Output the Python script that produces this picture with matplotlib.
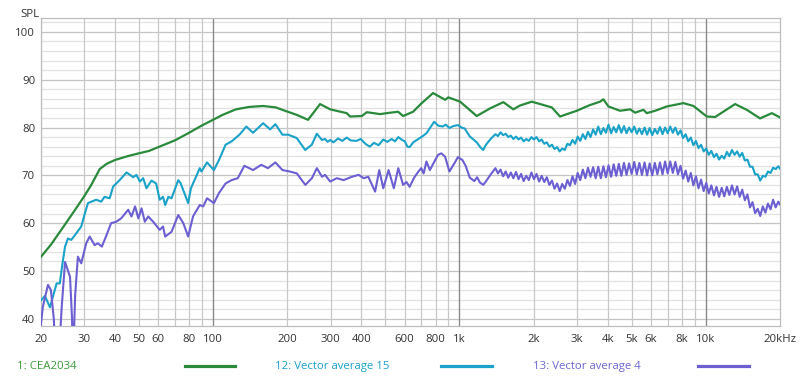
import matplotlib
matplotlib.use("Agg")
import matplotlib.pyplot as plt
from matplotlib.lines import Line2D

plt.rcParams['font.family'] = ['Open Sans', 'DejaVu Sans']

# ---------------- data ----------------
series_names = ["1: CEA2034", "12: Vector average 15", "13: Vector average 4"]
series_colors = ["#2a8a3c", "#1aa2c8", "#6c5fd2"]

cea_freq = [20, 22, 25, 28, 30, 32, 34.7, 37, 40, 45, 50, 55, 60, 70, 80, 90, 100, 110,
            124, 140, 160, 180, 196, 220, 243, 255, 272, 299, 349, 360, 402, 421, 477,
            507, 564, 591, 649, 700, 782, 875, 902, 1007, 1176, 1332, 1508, 1655, 1762,
            1967, 2193, 2372, 2561, 2993, 3389, 3723, 3839, 4025, 4490, 4929, 5164, 5584,
            5760, 6226, 6946, 8112, 8910, 10090, 10910, 13150, 14660, 16600, 18530, 20000]
cea_spl = [52.9, 55.5, 59.6, 63.3, 65.6, 67.9, 71.3, 72.4, 73.2, 74.0, 74.6, 75.1, 75.9,
           77.3, 78.9, 80.4, 81.6, 82.7, 83.8, 84.3, 84.5, 84.2, 83.5, 82.6, 81.6, 83.0,
           84.9, 83.8, 83.0, 82.3, 82.4, 83.2, 82.8, 83.0, 83.3, 82.4, 83.3, 85.0, 87.2,
           85.8, 86.3, 85.4, 82.4, 84.0, 85.3, 83.8, 84.6, 85.4, 84.7, 84.2, 82.3, 83.5,
           84.7, 85.4, 85.9, 84.4, 83.5, 83.8, 83.1, 83.7, 83.0, 83.5, 84.4, 85.1, 84.5,
           82.3, 82.2, 84.9, 83.7, 81.9, 83.0, 82.1]

# dense high-frequency sampling (measurement bins) shared by the two averages
hf_freq = [1400, 1434, 1469, 1505, 1541, 1579, 1617, 1656, 1697, 1738,
           1780, 1823, 1868, 1913, 1960, 2007, 2056, 2106, 2157, 2210,
           2263, 2318, 2375, 2432, 2492, 2552, 2614, 2678, 2743, 2810,
           2878, 2948, 3020, 3093, 3169, 3246, 3325, 3405, 3488, 3573,
           3660, 3749, 3840, 3933, 4029, 4127, 4227, 4330, 4435, 4543,
           4654, 4767, 4883, 5001, 5123, 5248, 5375, 5506, 5640, 5777,
           5917, 6061, 6209, 6360, 6514, 6673, 6835, 7001, 7171, 7346,
           7524, 7707, 7895, 8087, 8283, 8485, 8691, 8902, 9118, 9340,
           9567, 9800, 10040, 10280, 10530, 10790, 11050, 11320, 11600, 11880,
           12170, 12460, 12770, 13080, 13400, 13720, 14050, 14400, 14750, 15110,
           15470, 15850, 16240, 16630, 17030, 17450, 17870, 18310, 18750, 19210,
           19680, 20000]

va15_lf_freq = [20.1, 20.8, 21.8, 23.2, 23.9, 24.5, 25.1, 25.8, 26.6, 27.9, 29.2, 30.2,
                31.1, 33.6, 35.2, 36.3, 38.1, 39.3, 40.5, 41.8, 44.6, 47.5, 48.9, 50.5,
                52.1, 53.7, 56.3, 58.8, 60.8, 62.7, 64.0, 65.9, 67.9, 72.3, 74.0, 79.3,
                81.4, 88.4, 89.8, 94.6, 100.9, 105.8, 112.5, 119.0, 128.1, 136.6, 145.4,
                159.8, 170.7, 179.2, 191.4, 202, 218.8, 236.7, 251.8, 263.9, 276.8,
                285, 292, 299, 308, 321.8, 335, 349, 362, 382, 398,
                415, 433, 450, 470, 491, 510, 531, 548, 565, 585,
                601, 615, 628, 650, 682, 710, 735, 762, 790, 820,
                855, 880, 911, 945, 986, 1020, 1050, 1075, 1103, 1140,
                1180, 1215, 1249, 1275, 1300, 1350]
va15_lf_spl = [43.9, 44.8, 42.4, 47.4, 47.4, 51.5, 55.1, 56.8, 56.5, 57.9, 59.3, 62.0,
               64.2, 64.9, 64.5, 65.5, 65.2, 67.6, 68.3, 69.0, 70.6, 69.6, 70.1, 68.7,
               69.4, 67.3, 68.9, 68.3, 64.9, 65.5, 63.8, 65.5, 65.2, 69.0, 68.3, 64.2,
               67.3, 71.5, 70.8, 72.7, 71.1, 73.2, 76.4, 77.1, 78.5, 80.2, 78.9,
               80.9, 79.6, 80.7, 78.5, 78.5, 77.8, 75.3, 76.4, 78.7, 77.4,
               77.6, 77.0, 77.4, 76.9, 77.7, 77.2, 77.9, 77.3, 77.2, 77.6,
               76.6, 76.0, 76.8, 76.3, 77.5, 77.0, 77.6, 77.1, 78.0, 77.4,
               77.1, 76.0, 75.9, 76.9, 77.6, 78.2, 78.8, 80.0, 81.2, 80.4,
               80.2, 80.6, 79.9, 80.3, 80.5, 80.0, 79.8, 79.0, 78.1, 77.5,
               76.8, 75.9, 75.3, 76.2, 76.8, 77.8]
va15_hf_spl = [78.6, 78.2, 79.0, 78.4, 78.7, 78.0, 78.3, 77.6, 78.1, 77.5,
               77.9, 77.1, 77.6, 77.2, 78.0, 77.5, 78.0, 77.1, 77.5, 76.6,
               76.9, 76.0, 76.4, 75.5, 75.9, 75.0, 75.6, 75.3, 76.6, 76.3,
               77.4, 76.6, 78.1, 77.2, 78.6, 77.6, 79.1, 78.0, 79.6, 78.5,
               80.2, 78.6, 79.9, 78.9, 80.6, 78.8, 80.1, 79.0, 80.5, 78.9,
               80.3, 78.8, 80.0, 79.0, 80.2, 78.7, 79.8, 78.6, 80.0, 78.5,
               79.9, 78.4, 79.7, 78.7, 80.1, 78.6, 80.0, 78.8, 80.2, 78.9,
               80.0, 78.5, 79.4, 77.8, 78.6, 77.1, 77.9, 76.3, 77.2, 75.7,
               76.4, 75.0, 75.6, 74.3, 75.1, 73.8, 74.5, 73.3, 74.1, 73.5,
               74.9, 74.0, 75.3, 74.3, 75.0, 73.9, 74.7, 73.1, 73.3, 71.8,
               71.8, 70.2, 70.2, 68.9, 69.9, 69.7, 70.8, 70.5, 71.6, 71.3,
               71.9, 71.4]

va4_lf_freq = [20.0, 20.4, 21.4, 22.0, 22.6, 23.1, 23.6, 24.3, 25.1, 26.3, 26.8, 27.0,
               27.6, 28.3, 29.2, 30.6, 31.6, 33.1, 34.1, 35.4, 36.8, 38.6, 40.5, 42.4,
               45.3, 46.7, 48.3, 49.8, 51.3, 52.9, 54.6, 57.2, 60.8, 62.7, 64.0, 67.9,
               72.3, 75.8, 79.3, 83.0, 88.4, 91.3, 94.6, 100.9, 105.8, 112.5, 119, 126.1,
               134.1, 145.4, 157.1, 167.1, 179.2, 191.4, 205, 219, 237, 252, 264, 277,
               285, 299, 318, 339, 366, 390, 409, 427, 455, 473, 491, 516, 542,
               565, 591, 610, 628, 655, 682, 700, 716, 735, 759, 790, 820, 845, 875,
               911, 954, 986, 1029, 1060, 1103, 1150, 1180, 1211, 1250, 1292, 1340]
va4_lf_spl = [38.5, 42.5, 47.1, 46.0, 40.0, 30.0, 30.0, 42.0, 51.9, 48.8, 40.0, 30.0,
              45.0, 53.0, 51.6, 55.8, 57.2, 55.4, 55.8, 55.1, 57.2, 60.0, 60.3, 61.0,
              62.8, 61.4, 63.5, 61.0, 63.1, 60.3, 61.4, 60.3, 58.6, 59.3, 57.2, 58.2,
              61.7, 60.0, 57.2, 61.4, 63.8, 63.5, 65.2, 64.2, 66.3, 68.3, 69.0, 69.4,
              72.0, 71.1, 72.2, 71.5, 72.7, 71.1, 70.8, 70.4, 68.0, 69.4, 71.5, 69.7,
              70.1, 68.7, 69.4, 69.0, 69.7, 70.1, 69.4, 69.7, 66.6, 71.1, 67.3, 71.1, 67.3,
              71.5, 68.0, 68.6, 67.6, 69.5, 70.8, 71.5, 70.4, 72.9, 71.1, 72.8, 74.3, 74.6, 73.9,
              70.8, 72.5, 73.8, 73.2, 72.0, 69.5, 68.8, 69.6, 68.5, 68.0, 69.0, 70.2]
va4_hf_spl = [71.5, 70.4, 71.2, 69.8, 70.8, 69.5, 70.6, 69.4, 70.7, 69.2,
              70.3, 68.8, 69.9, 69.0, 70.6, 69.2, 70.3, 68.7, 69.9, 68.6,
              69.6, 68.0, 68.9, 67.2, 68.3, 66.7, 68.2, 67.2, 69.0, 67.8,
              69.8, 68.2, 70.5, 69.0, 71.2, 69.4, 71.6, 69.7, 71.7, 69.4,
              71.8, 69.4, 71.9, 69.6, 72.1, 69.7, 72.3, 69.9, 72.4, 69.9,
              72.6, 70.1, 72.5, 70.3, 72.8, 70.2, 72.6, 70.1, 72.7, 70.0,
              72.5, 70.0, 72.6, 70.2, 72.7, 70.2, 72.9, 70.4, 72.9, 70.5,
              72.8, 70.2, 72.0, 69.3, 71.0, 68.7, 70.5, 67.9, 69.8, 67.3,
              69.1, 66.7, 68.4, 66.2, 67.9, 65.8, 67.6, 65.5, 67.4, 65.6,
              67.6, 65.9, 67.9, 66.0, 67.7, 65.5, 67.0, 64.8, 66.0, 63.3,
              64.4, 62.1, 63.0, 61.5, 63.5, 62.2, 64.1, 62.9, 64.9, 63.3,
              64.5, 63.9]

va15_freq = va15_lf_freq + hf_freq
va15_spl = va15_lf_spl + va15_hf_spl
va4_freq = va4_lf_freq + hf_freq
va4_spl = va4_lf_spl + va4_hf_spl

x_tick_vals = [20, 30, 40, 50, 60, 80, 100, 200, 300, 400, 600, 800, 1000, 2000, 3000,
               4000, 5000, 6000, 8000, 10000, 20000]
x_tick_labels = ["20", "30", "40", "50", "60", "80", "100", "200", "300", "400", "600",
                 "800", "1k", "2k", "3k", "4k", "5k", "6k", "8k", "10k", "20kHz"]
y_tick_vals = [40, 50, 60, 70, 80, 90, 100]

# ---------------- figure ----------------
fig = plt.figure(figsize=(8.0, 3.77), dpi=100)
ax = fig.add_axes([0.0509, 0.1353, 0.9241, 0.8170])
ax.set_xscale('log')
ax.set_xlim(20, 20000)
ax.set_ylim(38.5, 102.9)

# grid
for db in range(40, 103, 2):
    major = db % 10 == 0
    ax.axhline(db, color='#c4c4c4' if major else '#e2e2e2', lw=0.9, zorder=0)
grid_f = []
for dec in (10, 100, 1000):
    for m in range(2, 10):
        grid_f.append(m * dec)
grid_f += [100, 1000, 10000]
for f in sorted(set(grid_f)):
    if f < 20:
        continue
    dark = f in (100, 1000, 10000)
    ax.axvline(f, color='#8a8a8a' if dark else '#c8c8c8', lw=1.0 if dark else 0.9, zorder=0)

for sp in ax.spines.values():
    sp.set_color('#bdbdbd')
    sp.set_linewidth(0.9)

ax.plot(cea_freq, cea_spl, color=series_colors[0], lw=1.6, zorder=3)
ax.plot(va15_freq, va15_spl, color=series_colors[1], lw=1.5, zorder=3)
ax.plot(va4_freq, va4_spl, color=series_colors[2], lw=1.5, zorder=3)

ax.set_xticks(x_tick_vals)
ax.set_xticklabels(x_tick_labels)
ax.xaxis.set_minor_locator(matplotlib.ticker.NullLocator())
ax.set_yticks(y_tick_vals)
ax.set_yticklabels([str(v) for v in y_tick_vals])
ax.tick_params(axis='both', length=0, labelsize=8.2, colors='#333333')
ax.tick_params(axis='x', pad=6)
ax.tick_params(axis='y', pad=4)

fig.text(0.025, 0.975, "SPL", fontsize=8.2, color='#333333', ha='left', va='top')

# legend row
leg_text_x = [0.021, 0.344, 0.666]
leg_line_x = [(0.231, 0.294), (0.551, 0.615), (0.872, 0.936)]
text_colors = ["#3a9a3a", "#1aa2c8", "#6b66d0"]
leg_y = 0.028
for name, tc, col, tx, (l0, l1) in zip(series_names, text_colors, series_colors,
                                        leg_text_x, leg_line_x):
    fig.text(tx, leg_y, name, fontsize=8.2, color=tc, ha='left', va='center')
    fig.add_artist(Line2D([l0, l1], [leg_y, leg_y], color=col, lw=2.3,
                          transform=fig.transFigure))

fig.savefig("out.png", dpi=100)
